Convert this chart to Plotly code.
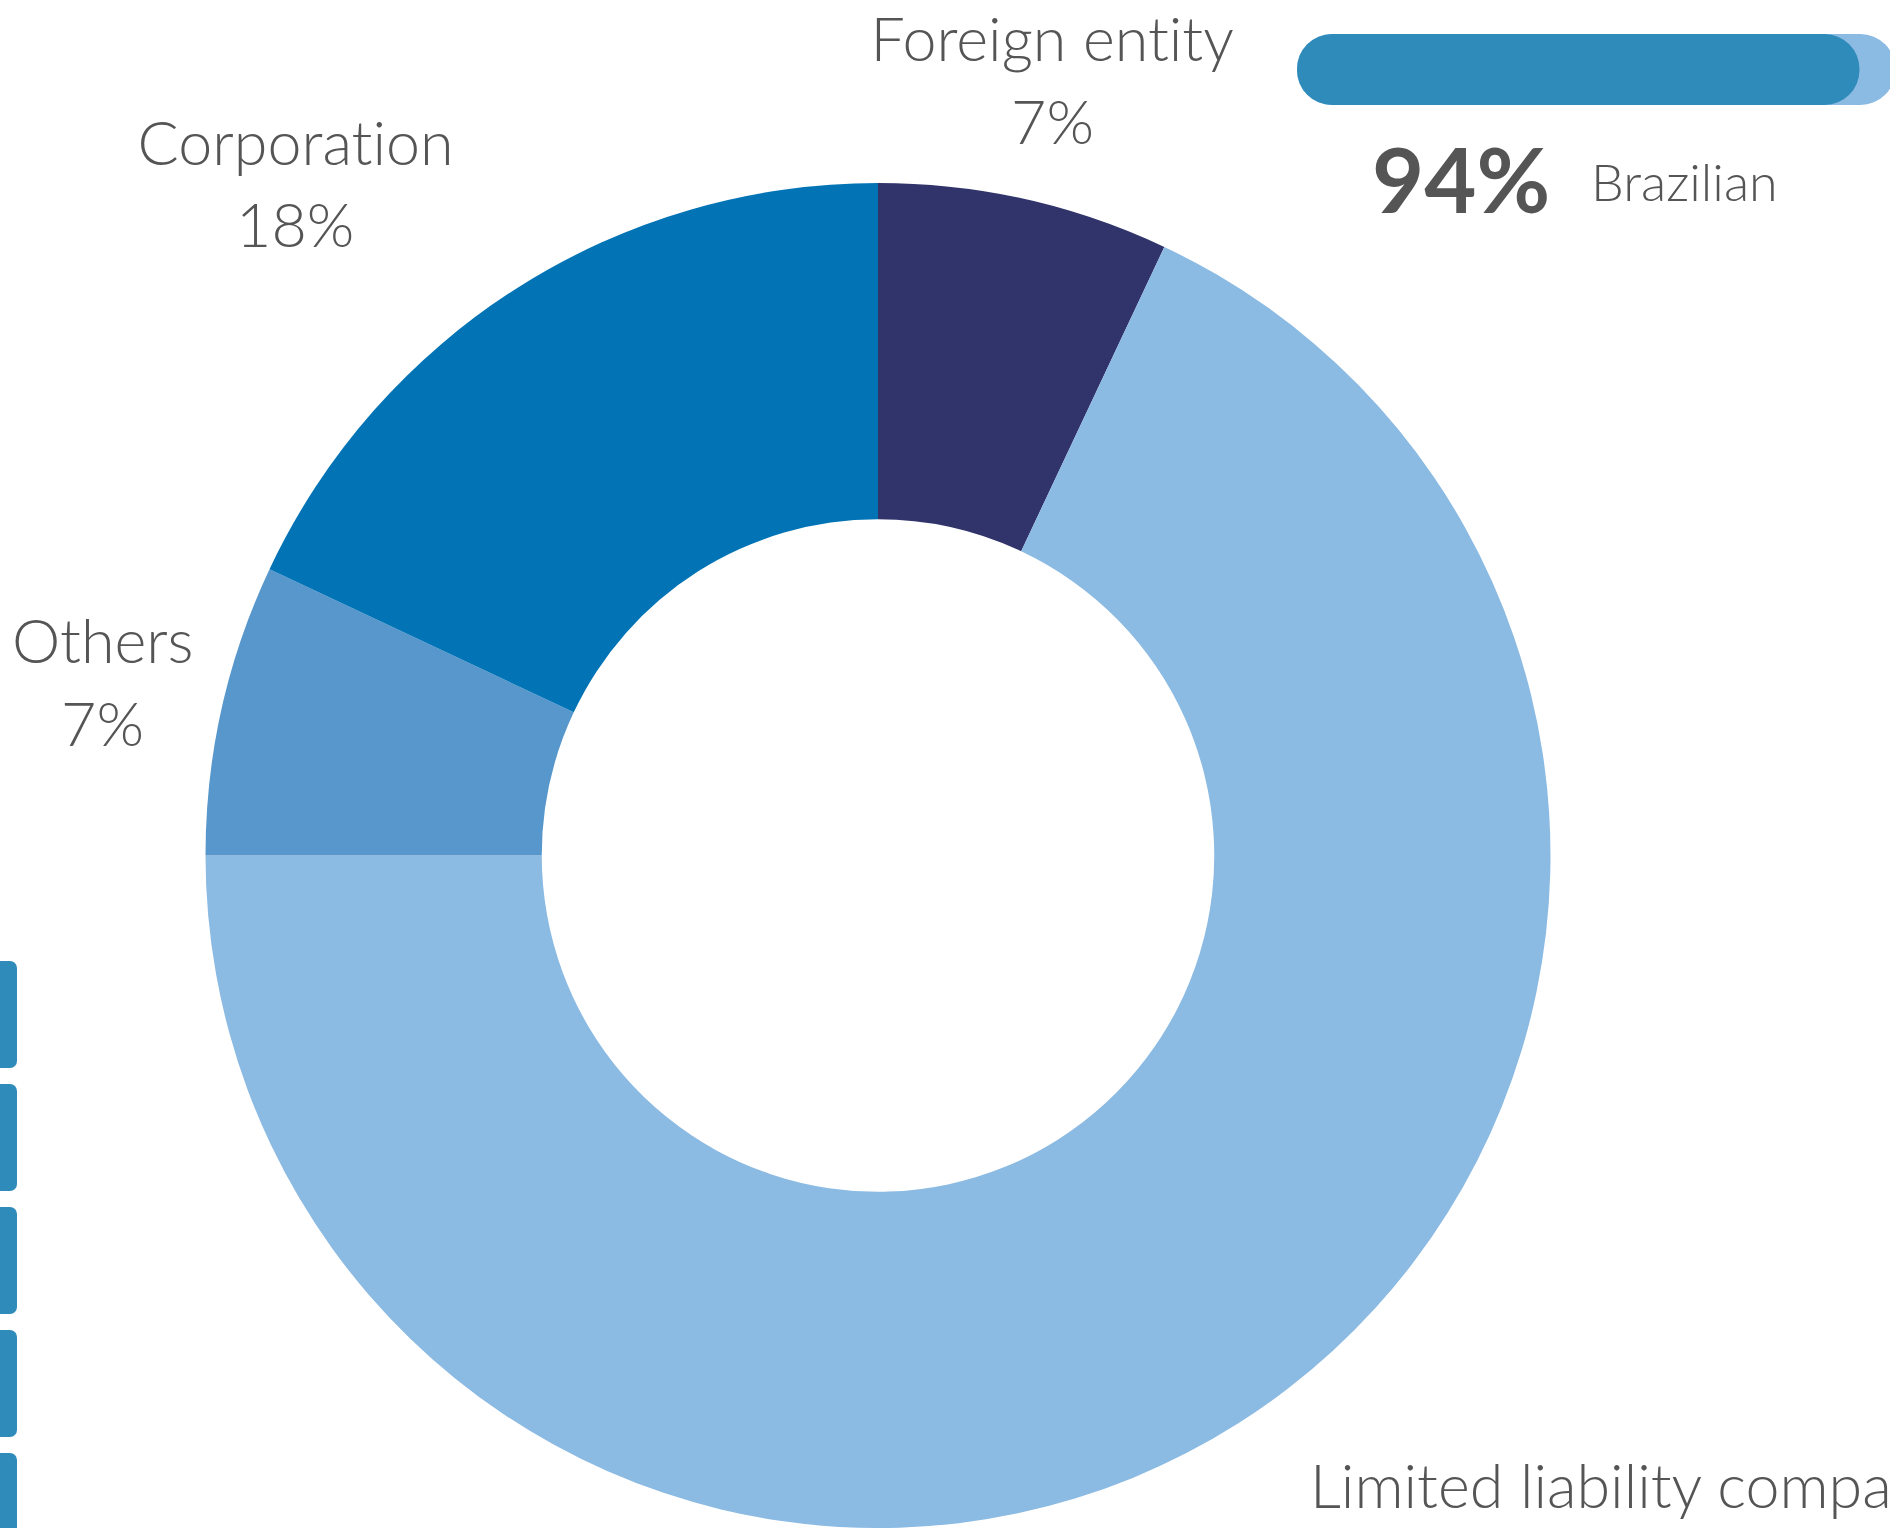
import plotly.graph_objects as go

# ---- data ----
segment_labels = ["Foreign entity", "Limited liability company", "Others", "Corporation"]
segment_values = [7, 68, 7, 18]
segment_colors = ["#31346A", "#8BBAE3", "#5797CB", "#0274B6"]

brazilian_label = "Brazilian"
brazilian_pct = 94
track_total = 100

side_categories = [0, 1, 2, 3, 4]
side_values = [100, 100, 100, 100, 100]

W, H = 1890, 1528
TEXT = "#555555"
FONT = "Lato"


def px_x(p):
    return p / W


def px_y(p):
    return 1 - p / H


fig = go.Figure()

# donut
fig.add_trace(go.Pie(
    labels=segment_labels,
    values=segment_values,
    marker=dict(colors=segment_colors, line=dict(width=0)),
    hole=0.5,
    sort=False,
    direction="clockwise",
    rotation=0,
    textinfo="none",
    hoverinfo="label+percent",
    domain=dict(x=[px_x(205), px_x(1551)], y=[0, px_y(183)]),
))

# progress bar: track + fill
bar_color_track = "#8BBAE3"
bar_color_fill = "#2E8BBA"
for total, color in [(track_total, bar_color_track), (brazilian_pct, bar_color_fill)]:
    fig.add_trace(go.Bar(
        y=[brazilian_label], x=[total], base=[0],
        orientation="h", width=1,
        marker=dict(color=color, cornerradius="50%", line=dict(width=0)),
        xaxis="x2", yaxis="y2", showlegend=False, hoverinfo="skip",
    ))

# side decorative bars (cut off at the left edge)
fig.add_trace(go.Bar(
    y=side_categories, x=side_values, orientation="h", width=0.87,
    marker=dict(color=bar_color_fill, cornerradius=7, line=dict(width=0)),
    xaxis="x3", yaxis="y3", showlegend=False, hoverinfo="skip",
))

hidden = dict(visible=False, showgrid=False, zeroline=False, fixedrange=True)

fig.update_layout(
    width=W, height=H,
    margin=dict(l=0, r=0, t=0, b=0),
    paper_bgcolor="white", plot_bgcolor="rgba(0,0,0,0)",
    showlegend=False,
    barmode="overlay",
    xaxis=dict(**hidden),
    yaxis=dict(**hidden),
    xaxis2=dict(**hidden, domain=[px_x(1297), 1], range=[0, 99.1], anchor="y2"),
    yaxis2=dict(**hidden, domain=[px_y(105), px_y(34)], range=[-0.5, 0.5], anchor="x2"),
    xaxis3=dict(**hidden, domain=[0, px_x(17)], range=[70, 100], anchor="y3"),
    yaxis3=dict(**hidden, domain=[0, 1], range=[4.175, -8.248], anchor="x3"),
)

# pie labels (the LLC percentage falls below the visible page, as in the reference)
label_pos = {
    "Foreign entity": dict(x=1052, name_y=37, pct_y=120, align="center"),
    "Corporation": dict(x=295, name_y=141, pct_y=223, align="center"),
    "Others": dict(x=102, name_y=639, pct_y=722, align="center"),
    "Limited liability company": dict(x=1308, name_y=1484, pct_y=1620, align="left"),
}
annotations = []
for lab, val in zip(segment_labels, segment_values):
    p = label_pos[lab]
    xanchor = "center" if p["align"] == "center" else "left"
    for txt, yy in [(lab, p["name_y"]), (f"{val}%", p["pct_y"])]:
        annotations.append(dict(
            x=px_x(p["x"]), y=px_y(yy), xref="paper", yref="paper",
            text=txt, showarrow=False, xanchor=xanchor, yanchor="middle",
            font=dict(family=FONT, size=61, color=TEXT, weight=300),
        ))

annotations.append(dict(
    x=px_x(1370), y=px_y(178), xref="paper", yref="paper",
    text=f"{brazilian_pct}%", showarrow=False, xanchor="left", yanchor="middle",
    font=dict(family=FONT, size=90, color=TEXT, weight=700),
))
annotations.append(dict(
    x=px_x(1589), y=px_y(181), xref="paper", yref="paper",
    text=brazilian_label, showarrow=False, xanchor="left", yanchor="middle",
    font=dict(family=FONT, size=52, color=TEXT, weight=300),
))
fig.update_layout(annotations=annotations)

post = (
    "document.body.style.margin='0';"
    "document.body.style.overflow='hidden';"
    "var s=document.createElement('style');"
    "s.textContent='text{font-variant-ligatures:none !important;}';"
    "document.head.appendChild(s);"
)
fig.write_html("out.html", config={"displayModeBar": False}, post_script=post)
